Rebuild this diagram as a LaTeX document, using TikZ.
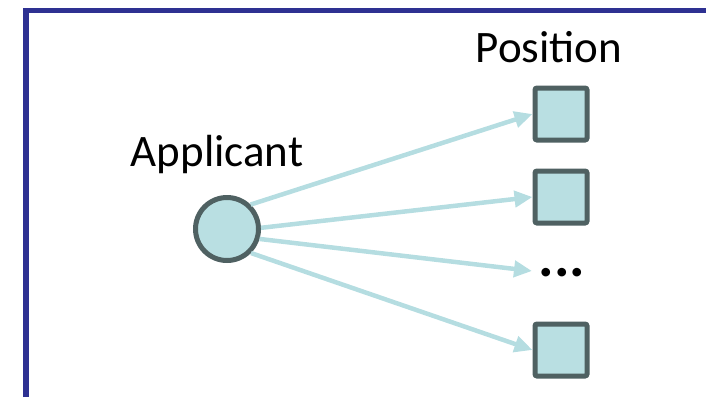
\documentclass[tikz,border=0pt]{standalone}
\usepackage{fontspec}
\setmainfont{Carlito}
\usetikzlibrary{arrows.meta}
\definecolor{frameblue}{HTML}{2E3192}
\definecolor{nodefill}{HTML}{B9DFE2}
\definecolor{nodeline}{HTML}{4F6162}
\definecolor{arrowcol}{HTML}{B5DDE1}
\tikzset{
  frameline/.style={draw=frameblue, line width=5.5pt},
  applicantnode/.style={circle, draw=nodeline, fill=nodefill, line width=5pt, minimum size=63pt, inner sep=0pt},
  positionnode/.style={rectangle, rounded corners=2pt, draw=nodeline, fill=nodefill, line width=5pt, minimum size=52pt, inner sep=0pt},
  linkarrow/.style={draw=arrowcol, line width=4.5pt, -{Triangle[length=18pt, width=16pt]}},
  bigtext/.style={font=\fontsize{45}{54}\selectfont, inner sep=0pt, anchor=base},
}
\begin{document}
\begin{tikzpicture}[x=1pt, y=-1pt]
\useasboundingbox (0,0) rectangle (706,397);
\draw[frameline] (26,397) -- (26,10.5) -- (706,10.5);
\node[bigtext] (poslabel) at (549,62) {Position};
\node[bigtext] (applabel) at (217,166) {Applicant};
\node[applicantnode] (a) at (227,229) {};
\node[positionnode] (p1) at (561,114) {};
\node[positionnode] (p2) at (561,197) {};
\node[font=\bfseries\fontsize{58}{60}\selectfont, inner sep=0pt, anchor=base] (dots) at (562,276) {...};
\node[positionnode] (p4) at (561,350) {};
\coordinate (t3) at (532,271);
\draw[linkarrow] (a.46) -- (p1.west);
\draw[linkarrow] (a.2) -- (p2.west);
\draw[linkarrow] (a.-17) -- (t3);
\draw[linkarrow] (a.-45) -- (p4.west);
\end{tikzpicture}
\end{document}
